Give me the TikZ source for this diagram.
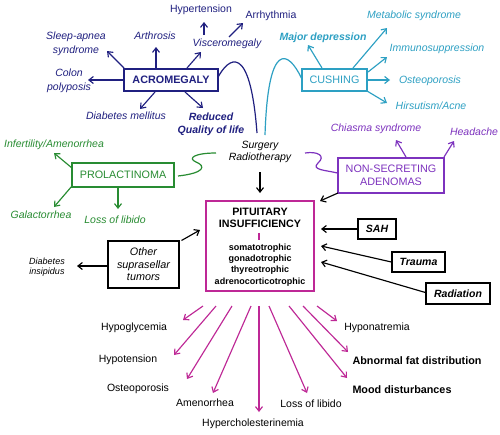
\documentclass[tikz,border=0pt]{standalone}
\usepackage{fontspec}
\setmainfont{Liberation Sans}
\usetikzlibrary{arrows.meta}
\definecolor{navy}{RGB}{32,32,128}
\definecolor{cyn}{RGB}{45,160,195}
\definecolor{purp}{RGB}{125,50,190}
\definecolor{grn}{RGB}{40,140,50}
\definecolor{mag}{RGB}{190,40,150}
\begin{document}
\begin{tikzpicture}[x=1pt,y=-1pt,
  lbl/.style={inner sep=0pt,align=center},
  rm/.style={lbl,font=\fontsize{10.5}{13.5}\selectfont},
  it/.style={lbl,font=\fontsize{10.5}{13.5}\selectfont\itshape},
  bi/.style={lbl,font=\fontsize{10.5}{13}\selectfont\bfseries\itshape},
  bf/.style={lbl,font=\fontsize{10.8}{13}\selectfont\bfseries},
  boxst/.style={draw=#1,text=#1,line width=1.2pt,inner sep=1pt,align=center},
  arr/.style={line width=1.15pt,-{Straight Barb[length=4.5pt,width=7pt]}},
  crv/.style={line width=1.2pt}
]
\useasboundingbox (0,0) rectangle (500,434);
\fill[white] (0,0) rectangle (500,434);

% ---------- ACROMEGALY ----------
\node[boxst=navy,minimum width=94pt,minimum height=22pt,font=\fontsize{10.8}{13}\selectfont\bfseries] (acro) at (171,80) {ACROMEGALY};
\node[it,navy] (sleep) at (76,44) {Sleep-apnea\\syndrome};
\node[it,navy] (arth) at (155,36) {Arthrosis};
\node[it,navy] (visc) at (227,44) {Visceromegaly};
\node[rm,navy] (hyper) at (201,10) {Hypertension};
\node[rm,navy] (arrh) at (271,16) {Arrhythmia};
\node[it,navy] (colon) at (69,81) {Colon\\polyposis};
\node[it,navy] (dm) at (126,116) {Diabetes mellitus};
\node[bi,navy] (red) at (211,124) {Reduced\\Quality of life};
\begin{scope}[navy]
\draw[arr] ([shift={(-47,-12)}]acro.center) -- ([shift={(31,7)}]sleep.center);
\draw[arr] ([shift={(-15,-11)}]acro.center) -- ([shift={(1,11)}]arth.center);
\draw[arr] ([shift={(16,-12)}]acro.center) -- ([shift={(-26,8)}]visc.center);
\draw[arr] ([shift={(2,-7)}]visc.center) -- ([shift={(-28,7)}]arrh.center);
\draw[arr] ([shift={(-23,-9)}]visc.center) -- ([shift={(3,12)}]hyper.center);
\draw[arr] ([shift={(-48,0)}]acro.center) -- ([shift={(19,-1)}]colon.center);
\draw[arr] ([shift={(-16,12)}]acro.center) -- ([shift={(14,-7)}]dm.center);
\draw[arr] ([shift={(14,12)}]acro.center) -- ([shift={(-8,-16)}]red.center);
\end{scope}

% ---------- Surgery ----------
\node[lbl,font=\fontsize{10.5}{11.8}\selectfont\itshape] (surg) at (260,152) {Surgery\\Radiotherapy};
\draw[crv,navy] ([shift={(-1,-2)}]acro.east) .. controls (228,58) and (250,40) .. ([shift={(-3,-19)}]surg.center);

% ---------- CUSHING ----------
\node[boxst=cyn,minimum width=65pt,minimum height=22pt,font=\fontsize{10.8}{13}\selectfont] (cush) at (334.5,80) {CUSHING};
\node[bi,cyn] (majd) at (323,38) {Major depression};
\node[it,cyn] (metab) at (414,16) {Metabolic syndrome};
\node[it,cyn] (immu) at (437,49) {Immunosuppression};
\node[it,cyn] (osteo) at (430,81) {Osteoporosis};
\node[it,cyn] (hirs) at (431,106) {Hirsutism/Acne};
\begin{scope}[cyn]
\draw[arr] ([shift={(-12.5,-12)}]cush.center) -- ([shift={(-15,7)}]majd.center);
\draw[arr] ([shift={(18.5,-12)}]cush.center) -- ([shift={(-27,12)}]metab.center);
\draw[arr] ([shift={(33.5,-8)}]cush.center) -- ([shift={(-50,8)}]immu.center);
\draw[arr] ([shift={(33.5,0)}]cush.center) -- ([shift={(-40,-1)}]osteo.center);
\draw[arr] ([shift={(32.5,11)}]cush.center) -- ([shift={(-44,-3)}]hirs.center);
\end{scope}
\draw[crv,cyn] ([shift={(5,-17)}]surg.center) .. controls (268,40) and (288,50) .. ([shift={(0,-2)}]cush.west);

% ---------- NON-SECRETING ----------
\node[boxst=purp,minimum width=106pt,minimum height=35pt,font=\fontsize{10.8}{13}\selectfont] (nons) at (391,175.5) {NON-SECRETING\\ADENOMAS};
\node[it,purp] (chia) at (376,129) {Chiasma syndrome};
\node[it,purp] (head) at (474,132) {Headache};
\begin{scope}[purp]
\draw[arr] ([shift={(15,-18.5)}]nons.center) -- ([shift={(20,11)}]chia.center);
\draw[arr] ([shift={(53,-18.5)}]nons.center) -- ([shift={(-20,9)}]head.center);
\end{scope}
\draw[crv,purp] ([shift={(45,1)}]surg.center) .. controls (318,151) and (326,156) .. (318,163) .. controls (311,170) and (325,170) .. ([shift={(0,-2.5)}]nons.west);

% ---------- PROLACTINOMA ----------
\node[boxst=grn,minimum width=102pt,minimum height=24pt,font=\fontsize{10.8}{13}\selectfont] (prol) at (123,175) {PROLACTINOMA};
\node[it,grn] (infe) at (54,145) {Infertility/Amenorrhea};
\node[it,grn] (gala) at (41,215) {Galactorrhea};
\node[it,grn] (lossg) at (115,220) {Loss of libido};
\begin{scope}[grn]
\draw[arr] ([shift={(-51,-7)}]prol.center) -- ([shift={(0,8)}]infe.center);
\draw[arr] ([shift={(-51,11)}]prol.center) -- ([shift={(13,-8)}]gala.center);
\draw[arr] ([shift={(-5,12)}]prol.center) -- ([shift={(3,-11)}]lossg.center);
\end{scope}
\draw[crv,grn] ([shift={(55,1)}]prol.center) .. controls (205,173) and (206,166) .. (196,162) .. controls (187,158) and (195,153) .. ([shift={(-44,1)}]surg.center);

% ---------- PITUITARY ----------
\node[draw=mag,line width=1.5pt,minimum width=108pt,minimum height=90pt,inner sep=0pt] (pit) at (260,246) {};
\node[lbl,font=\fontsize{10.7}{12}\selectfont\bfseries] (pitt) at (260,218) {PITUITARY\\INSUFFICIENCY};
\node[lbl,font=\fontsize{9}{11.3}\selectfont\bfseries] (pitl) at (260,265) {somatotrophic\\gonadotrophic\\thyreotrophic\\adrenocorticotrophic};
\draw[mag,line width=1.2pt] ([shift={(-1,5)}]pitt.south) -- ([shift={(-1,-4)}]pitl.north);
\draw[arr] ([shift={(0,20)}]surg.center) -- ([shift={(0,-53)}]pit.center);
\draw[arr] ([shift={(-53,17.5)}]nons.center) -- ([shift={(60,-45)}]pit.center);

% ---------- right boxes ----------
\node[draw,line width=1.2pt,minimum width=38pt,minimum height=20pt,inner sep=0pt,font=\fontsize{10.5}{13}\selectfont\bfseries\itshape] (sah) at (377,229) {SAH};
\node[draw,line width=1.2pt,minimum width=53pt,minimum height=20pt,inner sep=0pt,font=\fontsize{10.5}{13}\selectfont\bfseries\itshape] (trau) at (418.5,262) {Trauma};
\node[draw,line width=1.2pt,minimum width=64pt,minimum height=21pt,inner sep=0pt,font=\fontsize{10.5}{13}\selectfont\bfseries\itshape] (radi) at (458,293.5) {Radiation};
\draw[arr] (sah.west) -- ([shift={(61,-17)}]pit.center);
\draw[arr] (trau.west) -- ([shift={(61,0)}]pit.center);
\draw[arr] ([shift={(0,-1)}]radi.west) -- ([shift={(61,16)}]pit.center);

% ---------- Other suprasellar ----------
\node[draw,line width=1.2pt,minimum width=71pt,minimum height=47pt,inner sep=0pt,font=\fontsize{10.8}{12.5}\selectfont\itshape,align=center] (oth) at (143.5,264.5) {Other\\suprasellar\\tumors};
\node[lbl,font=\fontsize{9}{10.5}\selectfont\itshape] (di) at (47,267) {Diabetes\\insipidus};
\draw[arr] ([shift={(38,-24)}]oth.center) -- ([shift={(-60,-16)}]pit.center);
\draw[arr] ([shift={(-37,1.5)}]oth.center) -- ([shift={(30,-1)}]di.center);

% ---------- bottom ----------
\node[rm] (hypog) at (134,328) {Hypoglycemia};
\node[rm] (hypot) at (128,360) {Hypotension};
\node[rm] (ost2) at (138,389) {Osteoporosis};
\node[rm] (amen) at (205,403) {Amenorrhea};
\node[rm] (hchol) at (253,424) {Hypercholesterinemia};
\node[rm] (loss2) at (311,404) {Loss of libido};
\node[bf] (mood) at (402,390) {Mood disturbances};
\node[bf] (abn) at (417,361) {Abnormal fat distribution};
\node[rm] (hypon) at (377,328) {Hyponatremia};
\begin{scope}[mag]
\draw[arr] ([shift={(-57,60)}]pit.center) -- ([shift={(49,-8)}]hypog.center);
\draw[arr] ([shift={(-44,60)}]pit.center) -- ([shift={(46,-5)}]hypot.center);
\draw[arr] ([shift={(-28,60)}]pit.center) -- ([shift={(49,-10)}]ost2.center);
\draw[arr] ([shift={(-9,60)}]pit.center) -- ([shift={(8,-10)}]amen.center);
\draw[arr] ([shift={(-1,60)}]pit.center) -- ([shift={(6,-12)}]hchol.center);
\draw[arr] ([shift={(9,60)}]pit.center) -- ([shift={(-4,-11)}]loss2.center);
\draw[arr] ([shift={(29,60)}]pit.center) -- ([shift={(-55,-12)}]mood.center);
\draw[arr] ([shift={(43,60)}]pit.center) -- ([shift={(-69,-9)}]abn.center);
\draw[arr] ([shift={(57,60)}]pit.center) -- ([shift={(-40,-7)}]hypon.center);
\end{scope}
\end{tikzpicture}
\end{document}
